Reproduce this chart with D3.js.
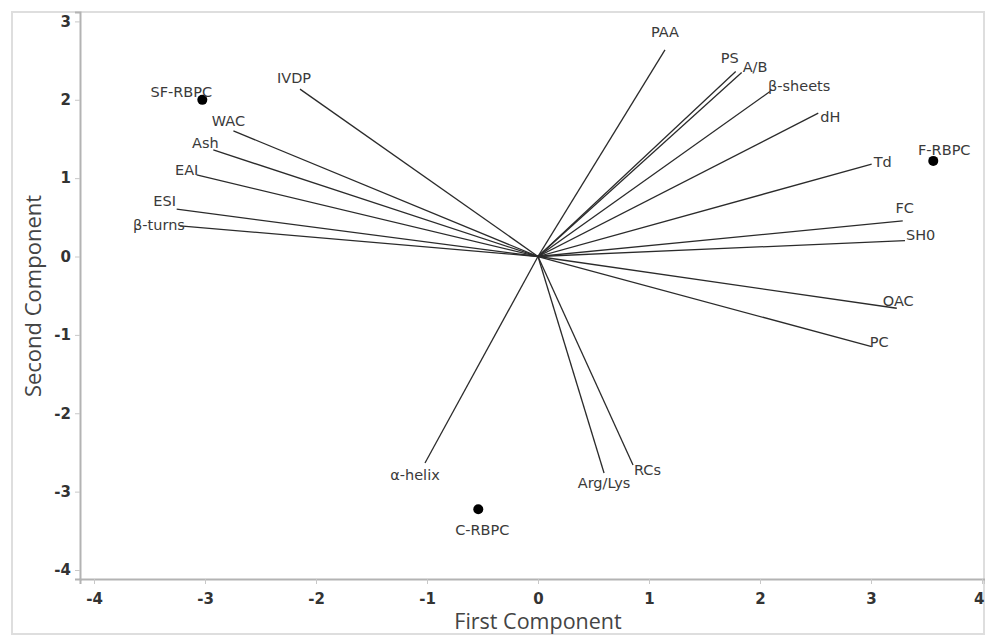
<!DOCTYPE html>
<html>
<head>
<meta charset="utf-8">
<script src="https://cdn.jsdelivr.net/npm/d3@7"></script>
<style>
  html, body { margin: 0; padding: 0; background: #fff; }
  svg { display: block; }
</style>
</head>
<body>
<svg id="chart" width="985" height="636"></svg>
<script>
// ---- data ----
const variables = ["PAA", "PS", "A/B", "β-sheets", "dH", "Td", "FC", "SH0", "OAC", "PC",
                   "RCs", "Arg/Lys", "α-helix", "IVDP", "WAC", "Ash", "EAI", "ESI", "β-turns"];
const loadPC1 = [1.144, 1.781, 1.835, 2.090, 2.525, 3.006, 3.286, 3.306, 3.232, 3.006,
                 0.856, 0.595, -1.018, -2.144, -2.744, -2.925, -3.075, -3.255, -3.225];
const loadPC2 = [2.637, 2.360, 2.347, 2.105, 1.829, 1.178, 0.454, 0.203, -0.660, -1.150,
                 -2.660, -2.763, -2.635, 2.136, 1.603, 1.360, 1.042, 0.604, 0.391];

const samples = ["SF-RBPC", "F-RBPC", "C-RBPC"];
const scorePC1 = [-3.024, 3.561, -0.538];
const scorePC2 = [1.999, 1.220, -3.226];

const xTicks = [-4, -3, -2, -1, 0, 1, 2, 3, 4];
const yTicks = [-4, -3, -2, -1, 0, 1, 2, 3];

const xTitle = "First Component";
const yTitle = "Second Component";

// ---- label layout (anchor, dx, dy in px relative to end point) ----
const labelLayout = {
  "PAA": ["middle", 0, -13],
  "PS": ["start", -15, -9],
  "A/B": ["start", 1, -1],
  "β-sheets": ["start", -2, -1],
  "dH": ["start", 2, 9],
  "Td": ["start", 2, 3],
  "FC": ["middle", 2, -8],
  "SH0": ["start", 1, -1],
  "OAC": ["start", -14, -2],
  "PC": ["start", -2, 0],
  "RCs": ["start", 1, 10],
  "Arg/Lys": ["middle", 0, 15],
  "α-helix": ["middle", -10, 17],
  "IVDP": ["middle", -6, -6],
  "WAC": ["middle", -5, -5],
  "Ash": ["middle", -8, -2],
  "EAI": ["middle", -10, 0],
  "ESI": ["middle", -12, -3],
  "β-turns": ["middle", -21, 4],
  "SF-RBPC": ["middle", -21, -3],
  "F-RBPC": ["middle", 11, -6],
  "C-RBPC": ["middle", 4, 26]
};

// ---- drawing ----
(function () {
const svg = d3.select("#chart");
const mLeft = 80, mRight = 985, mTop = 12, mBottom = 579;

const x = d3.scaleLinear().domain([-4.126, 4.027]).range([mLeft, mRight]);
const y = d3.scaleLinear().domain([-4.115, 3.12]).range([mBottom, mTop]);

// outer frame
svg.append("rect")
  .attr("x", 12).attr("y", 12).attr("width", 972).attr("height", 622)
  .attr("fill", "none").attr("stroke", "#dedede").attr("stroke-width", 2);

const tickFont = "'DejaVu Sans', Verdana, sans-serif";

// x axis
const gx = svg.append("g").attr("transform", `translate(0,${mBottom})`)
  .call(d3.axisBottom(x).tickValues(xTicks).tickSize(5).tickPadding(9).tickFormat(d3.format("d")));
gx.select(".domain").attr("stroke", "#b3b3b3").attr("stroke-width", 2);
gx.selectAll(".tick line").attr("stroke", "#c8c8c8");
gx.selectAll(".tick text").attr("font-family", tickFont).attr("font-size", 15)
  .attr("fill", "#333").attr("font-weight", "bold").text(d => d < 0 ? "-" + Math.abs(d) : d)
  .filter(d => x(d) > mRight - 10).attr("text-anchor", "end").attr("dx", mRight - x(4) - 1);

// y axis
const gy = svg.append("g").attr("transform", `translate(${mLeft},0)`)
  .call(d3.axisLeft(y).tickValues(yTicks).tickSize(5).tickPadding(4).tickFormat(d3.format("d")));
gy.select(".domain").attr("stroke", "#b3b3b3").attr("stroke-width", 2);
gy.selectAll(".tick line").attr("stroke", "#c8c8c8");
gy.selectAll(".tick text").attr("font-family", tickFont).attr("font-size", 15)
  .attr("fill", "#333").attr("font-weight", "bold").text(d => d < 0 ? "-" + Math.abs(d) : d);

// axis titles
const titleFont = "'Open Sans', 'Noto Sans', sans-serif";
svg.append("text").attr("x", 538).attr("y", 629).attr("text-anchor", "middle")
  .attr("font-family", titleFont).attr("font-size", 21.5).attr("fill", "#444").text(xTitle);
svg.append("text").attr("transform", "translate(41,296) rotate(-90)").attr("text-anchor", "middle")
  .attr("font-family", titleFont).attr("font-size", 22).attr("fill", "#444").text(yTitle);

// loading vectors
const loadings = variables.map((v, i) => ({ name: v, px: loadPC1[i], py: loadPC2[i] }));
const scores = samples.map((s, i) => ({ name: s, px: scorePC1[i], py: scorePC2[i] }));

svg.append("g").selectAll("line").data(loadings).join("line")
  .attr("x1", x(0)).attr("y1", y(0))
  .attr("x2", d => x(d.px)).attr("y2", d => y(d.py))
  .attr("stroke", "#2b2b2b").attr("stroke-width", 1.3);

const labFont = "'DejaVu Sans', Verdana, sans-serif";
function addLabels(data) {
  svg.append("g").selectAll("text").data(data).join("text")
    .attr("x", d => x(d.px) + labelLayout[d.name][1])
    .attr("y", d => y(d.py) + labelLayout[d.name][2])
    .attr("text-anchor", d => labelLayout[d.name][0])
    .attr("font-family", labFont).attr("font-size", 14.5).attr("fill", "#3a3a3a")
    .text(d => d.name);
}
addLabels(loadings);

// score points
svg.append("g").selectAll("circle").data(scores).join("circle")
  .attr("cx", d => x(d.px)).attr("cy", d => y(d.py)).attr("r", 5)
  .attr("fill", "#000");
addLabels(scores);
})();
</script>
</body>
</html>
